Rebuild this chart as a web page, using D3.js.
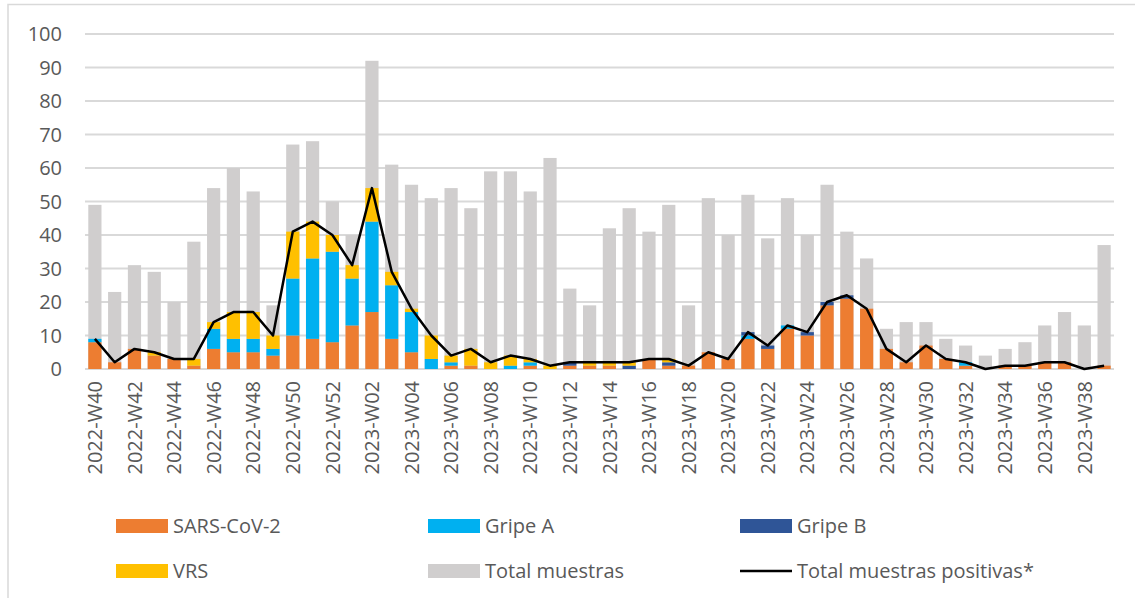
<!DOCTYPE html>
<html>
<head>
<meta charset="utf-8">
<title>Muestras por semana</title>
<script src="https://cdn.jsdelivr.net/npm/d3@7"></script>
<style>
  body { margin: 0; background: #fff; }
  text { font-family: "Open Sans", sans-serif; fill: #595959; }
</style>
</head>
<body>
<div id="chart"></div>
<script>
// weeks 2022-W40 .. 2023-W39
var weeks = [];
for (var w = 40; w <= 52; w++) weeks.push("2022-W" + w);
for (var w = 1; w <= 39; w++) weeks.push("2023-W" + (w < 10 ? "0" + w : w));

var sars = [8,2,6,4,3,1,6,5,5,4,10,9,8,
            13,17,9,5,0,1,1,0,0,1,0,1,1,1,0,3,1,1,5,3,9,6,12,10,19,21,18,6,2,7,3,1,0,1,1,2,2,0,1];
var gripeA = [1,0,0,0,0,0,6,4,4,2,17,24,27,
              14,27,16,12,3,1,0,0,1,1,0,0,0,0,0,0,0,0,0,0,1,0,1,0,0,0,0,0,0,0,0,1,0,0,0,0,0,0,0];
var gripeB = [0,0,0,0,0,0,0,0,0,0,0,0,0,
              0,0,0,0,0,0,0,0,0,0,0,1,0,0,1,0,1,0,0,0,1,1,0,1,1,1,0,0,0,0,0,0,0,0,0,0,0,0,0];
var vrs = [0,0,0,1,0,2,2,8,8,4,14,11,5,
           4,10,4,1,7,2,5,2,3,1,1,0,1,1,1,0,1,0,0,0,0,0,0,0,0,0,0,0,0,0,0,0,0,0,0,0,0,0,0];
var totalMuestras = [49,23,31,29,20,38,54,60,53,19,67,68,50,
                     40,92,61,55,51,54,48,59,59,53,63,24,19,42,48,41,49,19,51,40,52,39,51,40,55,41,33,
                     12,14,14,9,7,4,6,8,13,17,13,37];
var totalPositivas = [9,2,6,5,3,3,14,17,17,10,41,44,40,
                      31,54,29,18,10,4,6,2,4,3,1,2,2,2,2,3,3,1,5,3,11,7,13,11,20,22,18,
                      6,2,7,3,2,0,1,1,2,2,0,1];
var yTicks = [0,10,20,30,40,50,60,70,80,90,100];

var seriesNames = ["SARS-CoV-2", "Gripe A", "Gripe B", "VRS"];
var colors = {"SARS-CoV-2": "#ED7D31", "Gripe A": "#00B0F0", "Gripe B": "#2F5597", "VRS": "#FFC000",
              "Total muestras": "#D0CECE"};

var width = 1135, height = 598;
var plotLeft = 85, plotRight = 1114, plotTop = 34, plotBottom = 369;

var svg = d3.select("#chart").append("svg")
    .attr("width", width)
    .attr("height", height);

// outer frame
svg.append("rect")
    .attr("x", 8).attr("y", 4.5)
    .attr("width", width + 10).attr("height", height + 10)
    .attr("fill", "none")
    .attr("stroke", "#D9D9D9")
    .attr("stroke-width", 1.5);

var x = d3.scaleBand()
    .domain(weeks)
    .range([plotLeft, plotRight])
    .paddingInner(0.333)
    .paddingOuter(0.1665);

var y = d3.scaleLinear()
    .domain([0, 100])
    .range([plotBottom, plotTop]);

// gridlines
svg.append("g")
  .selectAll("line")
  .data(yTicks)
  .enter().append("line")
    .attr("x1", plotLeft).attr("x2", plotRight)
    .attr("y1", function(d) { return y(d); })
    .attr("y2", function(d) { return y(d); })
    .attr("stroke", "#D9D9D9")
    .attr("stroke-width", 2);

// y axis labels
svg.append("g")
  .selectAll("text")
  .data(yTicks)
  .enter().append("text")
    .attr("x", 62)
    .attr("y", function(d) { return y(d); })
    .attr("dy", "0.36em")
    .attr("text-anchor", "end")
    .style("font-size", "20px")
    .text(function(d) { return d; });

// total muestras behind
svg.append("g")
  .selectAll("rect")
  .data(weeks)
  .enter().append("rect")
    .attr("x", function(d) { return x(d); })
    .attr("width", x.bandwidth())
    .attr("y", function(d, i) { return y(totalMuestras[i]); })
    .attr("height", function(d, i) { return y(0) - y(totalMuestras[i]); })
    .attr("fill", colors["Total muestras"]);

// stacked positives
var rows = weeks.map(function(d, i) {
  return {week: d, "SARS-CoV-2": sars[i], "Gripe A": gripeA[i], "Gripe B": gripeB[i], "VRS": vrs[i]};
});
var stacked = d3.stack().keys(seriesNames)(rows);

svg.append("g")
  .selectAll("g")
  .data(stacked)
  .enter().append("g")
    .attr("fill", function(d) { return colors[d.key]; })
  .selectAll("rect")
  .data(function(d) { return d; })
  .enter().append("rect")
    .attr("x", function(d) { return x(d.data.week); })
    .attr("width", x.bandwidth())
    .attr("y", function(d) { return y(d[1]); })
    .attr("height", function(d) { return y(d[0]) - y(d[1]); });

// line of positives
var line = d3.line()
    .x(function(d, i) { return x(weeks[i]) + x.bandwidth() / 2; })
    .y(function(d) { return y(d); });

svg.append("path")
    .datum(totalPositivas)
    .attr("d", line)
    .attr("fill", "none")
    .attr("stroke", "#000")
    .attr("stroke-width", 2.5)
    .attr("stroke-linejoin", "round");

// x labels, every second week
var xAxis = svg.append("g");
xAxis.selectAll("text")
  .data(weeks.filter(function(d, i) { return i % 2 === 0; }))
  .enter().append("text")
    .attr("transform", function(d) {
      return "translate(" + (x(d) + x.bandwidth() / 2) + ",381) rotate(-90)";
    })
    .attr("dy", "0.36em")
    .attr("text-anchor", "end")
    .style("font-size", "20px")
    .text(function(d) { return d; });

// legend
var legendItems = [
  {name: "SARS-CoV-2", type: "rect", col: 0, row: 0},
  {name: "Gripe A", type: "rect", col: 1, row: 0},
  {name: "Gripe B", type: "rect", col: 2, row: 0},
  {name: "VRS", type: "rect", col: 0, row: 1},
  {name: "Total muestras", type: "rect", col: 1, row: 1},
  {name: "Total muestras positivas*", type: "line", col: 2, row: 1}
];
var colX = [116, 428, 740];
var rowY = [526, 571];

var legend = svg.append("g")
  .selectAll("g")
  .data(legendItems)
  .enter().append("g")
    .attr("transform", function(d) { return "translate(" + colX[d.col] + "," + rowY[d.row] + ")"; });

legend.filter(function(d) { return d.type === "rect"; })
  .append("rect")
    .attr("x", 0).attr("y", -7)
    .attr("width", 52).attr("height", 14)
    .attr("fill", function(d) { return colors[d.name]; });

legend.filter(function(d) { return d.type === "line"; })
  .append("line")
    .attr("x1", 0).attr("x2", 52)
    .attr("y1", 0).attr("y2", 0)
    .attr("stroke", "#000")
    .attr("stroke-width", 2.5);

legend.append("text")
    .attr("x", 57)
    .attr("y", 0)
    .attr("dy", "0.36em")
    .style("font-size", "20px")
    .text(function(d) { return d.name; });
</script>
</body>
</html>
